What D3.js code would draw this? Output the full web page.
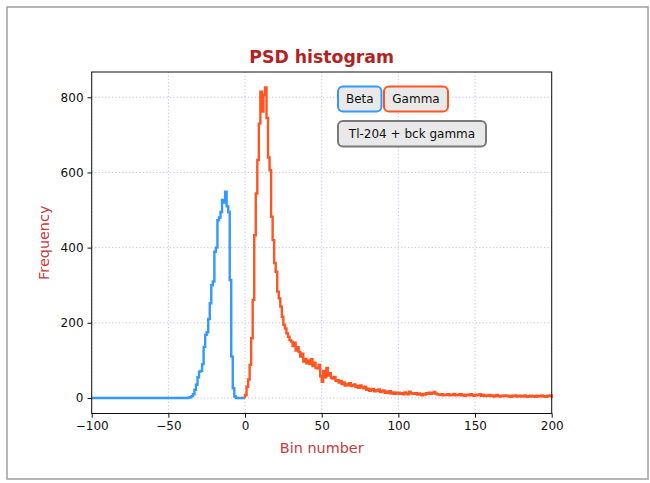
<!DOCTYPE html>
<html>
<head>
<meta charset="utf-8">
<script src="https://cdn.jsdelivr.net/npm/d3@7"></script>
<style>
  body { margin: 0; background: #fff; }
  svg { font-family: "DejaVu Sans", sans-serif; }
</style>
</head>
<body>
<div id="chart"></div>
<script>
// bins are 1 unit wide, first edge given
var betaStart = -100;
var betaCounts = [
  0,0,0,0,0,0,0,0,0,0, 0,0,0,0,0,0,0,0,0,0,
  0,0,0,0,0,0,0,0,0,0, 0,0,0,0,0,0,0,0,0,0,
  0,0,0,0,0,0,0,0,0,0, 0,0,0,0,0,0,0,0,0,0,
  0,0,0,
  1,2,5,10,22,35,55,70,72,90,136,168,175,210,252,300,310,389,400,473,
  480,495,527,520,549,510,495,314,110,26,4,0,0,0,0,0,0
];

var gammaStart = 0;
var gammaCounts = [
  8,30,49,88,159,261,433,544,633,730,
  815,762,806,826,745,640,606,482,420,359,
  336,283,265,243,216,195,185,172,163,154,
  150,138,147,126,135,122,110,118,97,104,
  92,100,90,103,85,94,80,79,88,58,
  43,72,55,80,60,66,54,52,56,46,
  47,41,45,37,41,33,37,34,39,32,
  34,36,29,32,27,33,29,26,30,22,
  25,19,22,24,18,21,19,23,16,18,
  20,14,17,13,18,12,15,11,14,12,
  14,11,13,10,15,12,10,17,13,12,
  11,13,9,12,10,7,11,9,13,11,
  14,11,13,16,12,10,9,8,10,7,
  9,8,10,7,9,8,11,7,9,8,
  10,7,9,6,8,9,7,10,8,6,
  9,8,7,10,6,8,5,7,6,8,
  5,7,4,6,8,5,4,6,5,7,
  5,6,4,3,6,5,7,4,5,6,
  4,5,7,4,3,5,6,4,5,3,
  6,4,5,7,4,5,3,6,5,7
];

var xTicks = [-100, -50, 0, 50, 100, 150, 200];
var yTicks = [0, 200, 400, 600, 800];

var width = 650, height = 483;
var plotLeft = 91.7, plotRight = 551.7, plotTop = 72, plotBottom = 413.5;

var svg = d3.select("#chart").append("svg")
  .attr("width", width)
  .attr("height", height);

// figure frame
svg.append("rect")
  .attr("x", 7).attr("y", 7)
  .attr("width", 641).attr("height", 472)
  .attr("fill", "none")
  .attr("stroke", "#a0a0a0")
  .attr("stroke-width", 1.5);

var maxCount = d3.max(betaCounts.concat(gammaCounts));

var x = d3.scaleLinear().domain([-100, 200]).range([plotLeft, plotRight]);
var y = d3.scaleLinear().domain([-0.05 * maxCount, 1.05 * maxCount]).range([plotBottom, plotTop]);

// grid
var grid = svg.append("g").attr("stroke", "#b8b8e6").attr("stroke-width", 0.9)
  .attr("stroke-dasharray", "1.2,2.2");
grid.selectAll(".gx").data(xTicks).enter().append("line")
  .attr("x1", d => x(d)).attr("x2", d => x(d))
  .attr("y1", plotTop).attr("y2", plotBottom);
grid.selectAll(".gy").data(yTicks).enter().append("line")
  .attr("x1", plotLeft).attr("x2", plotRight)
  .attr("y1", d => y(d)).attr("y2", d => y(d));

// step histograms
function stepPoints(start, counts) {
  var pts = [[start, 0]];
  counts.forEach(function (c, i) { pts.push([start + i, c]); });
  pts.push([start + counts.length, counts[counts.length - 1]]);
  pts.push([start + counts.length, 0]);
  return pts;
}

var line = d3.line()
  .x(d => x(d[0]))
  .y(d => y(d[1]))
  .curve(d3.curveStepAfter);

svg.append("path")
  .attr("d", line(stepPoints(betaStart, betaCounts)))
  .attr("fill", "none")
  .attr("stroke", "#3399ff")
  .attr("stroke-width", 2.4)
  .attr("stroke-linejoin", "miter");

svg.append("path")
  .attr("d", line(stepPoints(gammaStart, gammaCounts)))
  .attr("fill", "none")
  .attr("stroke", "#ff5522")
  .attr("stroke-width", 2.4)
  .attr("stroke-linejoin", "miter");

// axes
var xAxis = svg.append("g")
  .attr("transform", "translate(0," + plotBottom + ")")
  .call(d3.axisBottom(x).tickValues(xTicks).tickSize(4.2).tickPadding(4));
var yAxis = svg.append("g")
  .attr("transform", "translate(" + plotLeft + ",0)")
  .call(d3.axisLeft(y).tickValues(yTicks).tickSize(4.2).tickPadding(4));

[xAxis, yAxis].forEach(function (a) {
  a.select(".domain").remove();
  a.selectAll("text").attr("font-size", 12).attr("fill", "#111")
    .attr("font-family", "DejaVu Sans");
  a.selectAll("line").attr("stroke", "#111");
});

svg.append("rect")
  .attr("x", plotLeft).attr("y", plotTop)
  .attr("width", plotRight - plotLeft).attr("height", plotBottom - plotTop)
  .attr("fill", "none")
  .attr("stroke", "#111")
  .attr("stroke-width", 1);

// titles
svg.append("text")
  .attr("x", (plotLeft + plotRight) / 2).attr("y", 63)
  .attr("text-anchor", "middle")
  .attr("font-size", 17.3).attr("font-weight", "bold")
  .attr("fill", "#b22222")
  .text("PSD histogram");

svg.append("text")
  .attr("x", (plotLeft + plotRight) / 2).attr("y", 453)
  .attr("text-anchor", "middle")
  .attr("font-size", 14.4)
  .attr("fill", "#c63a3e")
  .text("Bin number");

svg.append("text")
  .attr("transform", "translate(49," + (plotTop + plotBottom) / 2 + ") rotate(-90)")
  .attr("text-anchor", "middle")
  .attr("font-size", 14.4)
  .attr("fill", "#c63a3e")
  .text("Frequency");

// legend boxes
var boxes = [
  { label: "Beta", x: 338, y: 86.5, w: 43.5, h: 25, color: "#3399ff" },
  { label: "Gamma", x: 384, y: 86.5, w: 64, h: 25, color: "#ff5522" },
  { label: "Tl-204 + bck gamma", x: 338, y: 121, w: 148, h: 25.5, color: "#7a7a7a" }
];
var lg = svg.selectAll(".lg").data(boxes).enter().append("g");
lg.append("rect")
  .attr("x", d => d.x).attr("y", d => d.y)
  .attr("width", d => d.w).attr("height", d => d.h)
  .attr("rx", 5).attr("ry", 5)
  .attr("fill", "#e9e9e9")
  .attr("stroke", d => d.color)
  .attr("stroke-width", 2);
lg.append("text")
  .attr("x", d => d.x + d.w / 2).attr("y", d => d.y + d.h / 2 + 4.3)
  .attr("text-anchor", "middle")
  .attr("font-size", 12)
  .attr("fill", "#111")
  .text(d => d.label);
</script>
</body>
</html>
